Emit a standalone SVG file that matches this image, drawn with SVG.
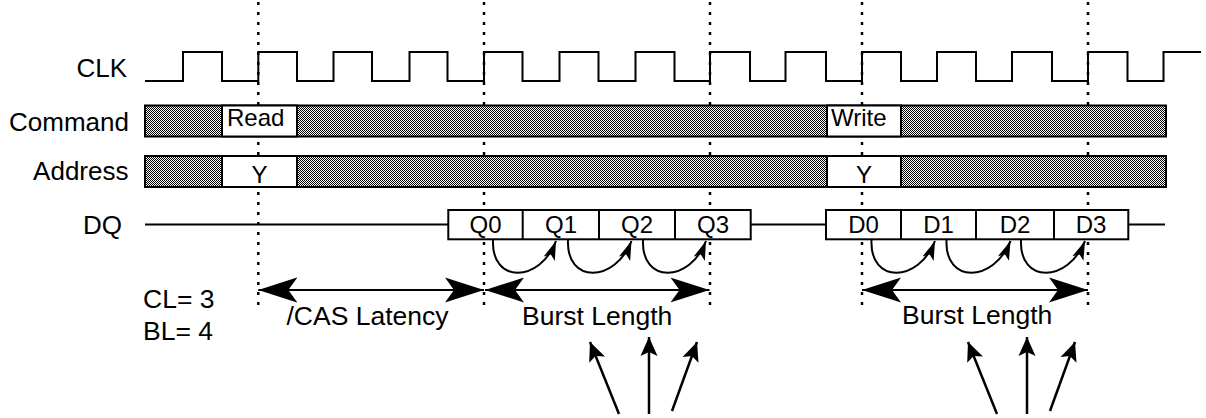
<svg xmlns="http://www.w3.org/2000/svg" width="1206" height="418" viewBox="0 0 1206 418">
<style>
text{font-family:"Liberation Sans",Arial,Helvetica,sans-serif;fill:#000}
.lbl{font-size:26px;text-anchor:end}
.box{font-size:24px}
.mid{text-anchor:middle}
.big{font-size:26.5px}
.wire{fill:none;stroke:#000;stroke-width:2}
.bar{fill:url(#dither);stroke:#000;stroke-width:2}
.cell{fill:#fff;stroke:#000;stroke-width:2}
.guide{fill:none;stroke:#000;stroke-width:2.5;stroke-dasharray:3 7}
.span{fill:none;stroke:#000;stroke-width:2;marker-start:url(#bigHead);marker-end:url(#bigHead)}
.loop{fill:none;stroke:#000;stroke-width:2;marker-end:url(#smallHead)}
.ptr{fill:none;stroke:#000;stroke-width:2.5;marker-end:url(#midHead)}
</style>
<defs>
<pattern id="dither" width="2" height="2" patternUnits="userSpaceOnUse">
<rect width="2" height="2" fill="#fff"/>
<rect width="1" height="1" fill="#000"/>
<rect x="1" y="1" width="1" height="1" fill="#000"/>
</pattern>
<marker id="bigHead" markerUnits="userSpaceOnUse" markerWidth="40" markerHeight="26" refX="39" refY="13" orient="auto-start-reverse">
<path d="M39,13 L0,0.5 L9,13 L0,25.5 Z" fill="#000"/>
</marker>
<marker id="smallHead" markerUnits="userSpaceOnUse" markerWidth="20" markerHeight="13" refX="19" refY="6.5" orient="auto">
<path d="M19,6.5 L0,0.5 L4.5,6.5 L0,12.5 Z" fill="#000"/>
</marker>
<marker id="midHead" markerUnits="userSpaceOnUse" markerWidth="20" markerHeight="18" refX="19" refY="9" orient="auto">
<path d="M19,9 L0,0.5 L4,9 L0,17.5 Z" fill="#000"/>
</marker>
</defs>
<rect width="1206" height="418" fill="#fff"/>

<g id="guides">
<path class="guide" d="M258.3,2 V312"/>
<path class="guide" d="M484,2 V312"/>
<path class="guide" d="M710,2 V312"/>
<path class="guide" d="M862,2 V312"/>
<path class="guide" d="M1088,2 V312"/>
</g>

<g id="clk">
<text class="lbl" x="127" y="77">CLK</text>
<path class="wire" d="M145,81 H183 V52 H222 V81 H258.3 V52 H297 V81 H333.5 V52 H372 V81 H409.5 V52 H447.5 V81 H484 V52 H522.5 V81 H559.5 V52 H598.5 V81 H635.5 V52 H674.5 V81 H710 V52 H750 V81 H785.5 V52 H826 V81 H862 V52 H901 V81 H937 V52 H976 V81 H1012 V52 H1052 V81 H1088 V52 H1127.5 V81 H1163.5 V52 H1201"/>
</g>

<g id="command">
<text class="lbl" x="129" y="131">Command</text>
<rect class="bar" x="145" y="105.5" width="1021" height="31"/>
<g id="cmd-read">
<rect class="cell" x="222" y="105.5" width="75" height="31"/>
<text class="box" x="227" y="126">Read</text>
</g>
<g id="cmd-write">
<rect class="cell" x="827" y="105.5" width="74" height="31"/>
<text class="box" x="831" y="126">Write</text>
</g>
</g>

<g id="address">
<text class="lbl" x="128.5" y="180">Address</text>
<rect class="bar" x="145" y="156" width="1021" height="31"/>
<g id="addr-y1">
<rect class="cell" x="222" y="156" width="75" height="31"/>
<text class="box mid" x="259.5" y="183">Y</text>
</g>
<g id="addr-y2">
<rect class="cell" x="827" y="156" width="74" height="31"/>
<text class="box mid" x="864" y="183">Y</text>
</g>
</g>

<g id="dq">
<text class="lbl" x="122" y="234">DQ</text>
<path class="wire" d="M145,224.5 H448.3 M750.7,224.5 H826 M1128.3,224.5 H1165"/>
<g id="dq-read">
<rect class="cell" x="448.3" y="210" width="302.4" height="29.3"/>
<path class="wire" d="M522.7,210 V239.3 M599,210 V239.3 M675,210 V239.3"/>
<text class="box mid" x="485.5" y="233">Q0</text>
<text class="box mid" x="561" y="233">Q1</text>
<text class="box mid" x="637" y="233">Q2</text>
<text class="box mid" x="713" y="233">Q3</text>
</g>
<g id="dq-write">
<rect class="cell" x="826" y="210" width="302.3" height="29.3"/>
<path class="wire" d="M901,210 V239.3 M976,210 V239.3 M1054,210 V239.3"/>
<text class="box mid" x="863.5" y="233">D0</text>
<text class="box mid" x="938.5" y="233">D1</text>
<text class="box mid" x="1015" y="233">D2</text>
<text class="box mid" x="1091" y="233">D3</text>
</g>
</g>

<g id="notes">
<text class="big" x="143" y="308">CL= 3</text>
<text class="big" x="143" y="340">BL= 4</text>
<text class="big" x="286.5" y="325">/CAS Latency</text>
<text class="big" x="522" y="325">Burst Length</text>
<text class="big" x="902" y="324">Burst Length</text>
</g>

<g id="connectors">
<path class="span" d="M258.3,290 H484"/>
<path class="span" d="M485,290 H709.5"/>
<path class="span" d="M862,290 H1088"/>
<path class="loop" d="M493,240 C491,284 540,283 556,241"/>
<path class="loop" d="M568,240 C566,284 615,283 631.5,241"/>
<path class="loop" d="M643,240 C641,284 690,283 706,241"/>
<path class="loop" d="M871.5,240 C869.5,284 918.5,283 935,241"/>
<path class="loop" d="M946.5,240 C944.5,284 993.5,283 1010.5,241"/>
<path class="loop" d="M1021,240 C1019,284 1068,283 1085,241"/>
<path class="ptr" d="M619,414 L590,342"/>
<path class="ptr" d="M649,414 V337"/>
<path class="ptr" d="M672,411 L697,342"/>
<path class="ptr" d="M997,414 L968,342"/>
<path class="ptr" d="M1027,414 V337"/>
<path class="ptr" d="M1050,411 L1075,342"/>
</g>
</svg>
